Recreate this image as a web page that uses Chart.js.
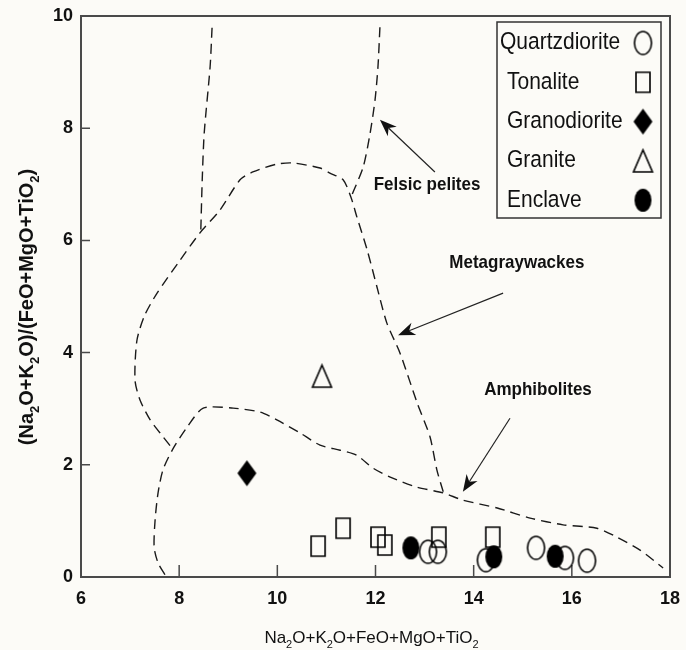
<!DOCTYPE html>
<html>
<head>
<meta charset="utf-8">
<script src="https://cdn.jsdelivr.net/npm/chart.js@4.4.1/dist/chart.umd.min.js"></script>
<style>
  body { margin: 0; background: #fcfbf7; }
  canvas { display: block; }
</style>
</head>
<body>
<canvas id="plot" width="686" height="650"></canvas>
<script>
// x = Na2O+K2O+FeO+MgO+TiO2, y = (Na2O+K2O)/(FeO+MgO+TiO2)
var quartzX = [13.07, 13.27, 14.25, 15.27, 15.86, 16.31];
var quartzY = [0.45, 0.45, 0.30, 0.52, 0.34, 0.29];
var tonaliteX = [10.83, 11.34, 12.05, 12.19, 13.29, 14.39];
var tonaliteY = [0.55, 0.87, 0.71, 0.57, 0.71, 0.71];
var granodioriteX = [9.38];
var granodioriteY = [1.85];
var graniteX = [10.91];
var graniteY = [3.58];
var enclaveX = [12.72, 14.41, 15.66];
var enclaveY = [0.52, 0.36, 0.37];

// field boundaries (dashed)
var felsicLeftX = [8.67, 8.63, 8.51, 8.47, 8.44];
var felsicLeftY = [9.79, 9.09, 7.91, 7.08, 6.15];
var felsicRightX = [12.09, 12.05, 11.99, 11.89, 11.75, 11.52];
var felsicRightY = [9.80, 9.09, 8.50, 7.91, 7.31, 6.81];
var metaX = [13.38, 13.25, 13.11, 12.85, 12.50, 12.23, 12.03, 11.83, 11.62, 11.50, 11.34, 11.07, 10.87,
             10.32, 9.99, 9.50, 9.24, 8.83, 8.42, 8.02, 7.55, 7.30, 7.14, 7.10, 7.20, 7.41, 7.67, 7.87];
var metaY = [1.52, 1.91, 2.50, 3.10, 3.99, 4.53, 5.17, 5.83, 6.42, 6.77, 7.08, 7.20, 7.29,
             7.38, 7.36, 7.22, 7.08, 6.54, 6.13, 5.65, 5.06, 4.67, 4.22, 3.51, 3.16, 2.80, 2.50, 2.28];
var amphX = [7.71, 7.57, 7.49, 7.51, 7.57, 7.67, 7.87, 8.16, 8.49, 9.10, 9.65, 9.99, 10.46, 10.87,
             11.28, 11.62, 11.95, 12.30, 12.85, 13.38, 13.78, 14.48, 15.15, 15.82, 16.51, 16.92, 17.39, 17.86];
var amphY = [0.04, 0.25, 0.53, 1.02, 1.50, 1.91, 2.28, 2.67, 3.01, 3.01, 2.94, 2.80, 2.57, 2.35,
             2.26, 2.17, 1.94, 1.78, 1.60, 1.50, 1.37, 1.23, 1.05, 0.93, 0.87, 0.71, 0.48, 0.16];

// field names with arrows
var fieldNames = ['Felsic pelites', 'Metagraywackes', 'Amphibolites'];
var nameX = [13.05, 14.88, 15.31];
var nameY = [6.99, 5.60, 3.33];
var arrowFromX = [13.21, 14.60, 14.74];
var arrowFromY = [7.22, 5.06, 2.83];
var arrowToX = [12.09, 12.46, 13.78];
var arrowToY = [8.15, 4.31, 1.52];

var xTicks = [6, 8, 10, 12, 14, 16, 18];
var yTicks = [0, 2, 4, 6, 8, 10];
var xTitle = 'Na{2}O+K{2}O+FeO+MgO+TiO{2}';
var yTitle = '(Na{2}O+K{2}O)/(FeO+MgO+TiO{2})';

var FONT = '"Liberation Sans", Arial, sans-serif';
var INK = '#111';

function pts(xs, ys) {
    return xs.map(function (x, i) { return {x: x, y: ys[i]}; });
}

// scanned symbols are a bit taller than wide, so draw them on small canvases
function marker(kind, w, h) {
    var c = document.createElement('canvas');
    c.width = w + 4;
    c.height = h + 4;
    var g = c.getContext('2d');
    var cx = c.width / 2, cy = c.height / 2;
    g.lineWidth = 1.6;
    g.strokeStyle = '#000';
    g.fillStyle = '#000';
    g.beginPath();
    if (kind === 'circle' || kind === 'dot') {
        g.ellipse(cx, cy, w / 2, h / 2, 0, 0, Math.PI * 2);
    } else if (kind === 'square') {
        g.rect(cx - w / 2, cy - h / 2, w, h);
    } else if (kind === 'diamond') {
        g.moveTo(cx, cy - h / 2);
        g.lineTo(cx + w / 2, cy);
        g.lineTo(cx, cy + h / 2);
        g.lineTo(cx - w / 2, cy);
        g.closePath();
    } else {
        g.moveTo(cx, cy - h / 2);
        g.lineTo(cx + w / 2, cy + h / 2);
        g.lineTo(cx - w / 2, cy + h / 2);
        g.closePath();
    }
    if (kind === 'dot' || kind === 'diamond') g.fill(); else g.stroke();
    return c;
}

function boundary(xs, ys) {
    return {
        data: pts(xs, ys),
        showLine: true,
        boundary: true,
        borderColor: '#1a1a1a',
        borderWidth: 1.4,
        borderDash: [10, 6],
        tension: 0.25,
        pointRadius: 0,
        order: 5
    };
}

// text with {2} style subscripts
function richText(ctx, text, x, y, size, bold) {
    var parts = text.split(/\{(\d)\}/);
    var w = bold ? 'bold ' : '';
    var base = w + size + 'px ' + FONT;
    var sub = w + Math.round(size * 0.65) + 'px ' + FONT;
    var total = 0;
    parts.forEach(function (p, i) {
        ctx.font = i % 2 ? sub : base;
        total += ctx.measureText(p).width;
    });
    var cx = x - total / 2;
    ctx.textAlign = 'left';
    ctx.textBaseline = 'alphabetic';
    parts.forEach(function (p, i) {
        ctx.font = i % 2 ? sub : base;
        ctx.fillText(p, cx, i % 2 ? y + size * 0.3 : y);
        cx += ctx.measureText(p).width;
    });
}

function arrow(ctx, x1, y1, x2, y2) {
    var a = Math.atan2(y2 - y1, x2 - x1), L = 17, W = 6.5;
    var c = Math.cos(a), s = Math.sin(a);
    ctx.beginPath();
    ctx.moveTo(x1, y1);
    ctx.lineTo(x2 - c * L * 0.7, y2 - s * L * 0.7);
    ctx.stroke();
    ctx.beginPath();
    ctx.moveTo(x2, y2);
    ctx.lineTo(x2 - L * c + W * s, y2 - L * s - W * c);
    ctx.lineTo(x2 - L * 0.7 * c, y2 - L * 0.7 * s);
    ctx.lineTo(x2 - L * c - W * s, y2 - L * s + W * c);
    ctx.closePath();
    ctx.fill();
}

// box around the plot + inward tick marks
var framePlugin = {
    id: 'frame',
    beforeDatasetsDraw: function (chart) {
        var ctx = chart.ctx, ca = chart.chartArea;
        var sx = chart.scales.x, sy = chart.scales.y;
        ctx.save();
        ctx.strokeStyle = '#4a4a4a';
        ctx.lineWidth = 2;
        ctx.strokeRect(ca.left, ca.top, ca.right - ca.left, ca.bottom - ca.top);
        ctx.lineWidth = 1.5;
        ctx.beginPath();
        xTicks.slice(1, -1).forEach(function (v) {
            var px = sx.getPixelForValue(v);
            ctx.moveTo(px, ca.bottom);
            ctx.lineTo(px, ca.bottom - 12);
        });
        yTicks.slice(1, -1).forEach(function (v) {
            var py = sy.getPixelForValue(v);
            ctx.moveTo(ca.left, py);
            ctx.lineTo(ca.left + 9, py);
        });
        ctx.stroke();
        ctx.restore();
    }
};

// field names, arrows, legend box, axis titles
var notesPlugin = {
    id: 'notes',
    afterDatasetsDraw: function (chart) {
        var ctx = chart.ctx, ca = chart.chartArea;
        var sx = chart.scales.x, sy = chart.scales.y;
        ctx.save();
        ctx.fillStyle = INK;
        ctx.strokeStyle = '#222';
        ctx.lineWidth = 1.2;
        fieldNames.forEach(function (name, i) {
            ctx.save();
            ctx.translate(sx.getPixelForValue(nameX[i]), sy.getPixelForValue(nameY[i]));
            ctx.scale(1, 1.08);
            ctx.font = 'bold 17px ' + FONT;
            ctx.textAlign = 'center';
            ctx.textBaseline = 'middle';
            ctx.fillText(name, 0, 0);
            ctx.restore();
            arrow(ctx, sx.getPixelForValue(arrowFromX[i]), sy.getPixelForValue(arrowFromY[i]),
                  sx.getPixelForValue(arrowToX[i]), sy.getPixelForValue(arrowToY[i]));
        });

        // legend
        var left = ca.right - 173, top = ca.top + 6;
        ctx.fillStyle = '#fcfbf7';
        ctx.fillRect(left, top, 164, 196);
        ctx.strokeStyle = '#333';
        ctx.lineWidth = 1.5;
        ctx.strokeRect(left, top, 164, 196);
        ctx.fillStyle = INK;
        var items = chart.data.datasets.filter(function (d) { return !d.boundary; });
        items.sort(function (a, b) { return a.legendRank - b.legendRank; });
        items.forEach(function (d, i) {
            var cy = top + 21 + i * 39.3;
            ctx.save();
            ctx.translate(i === 0 ? left + 3 : left + 10, cy);
            ctx.scale(1, 1.12);
            ctx.font = '21px ' + FONT;
            ctx.textAlign = 'left';
            ctx.textBaseline = 'middle';
            ctx.fillText(d.label, 0, 0);
            ctx.restore();
            var img = d.pointStyle;
            ctx.drawImage(img, left + 146 - img.width / 2, cy - img.height / 2);
        });

        // axis titles
        ctx.fillStyle = INK;
        richText(ctx, xTitle, (ca.left + ca.right) / 2 - 4, 643, 17, false);
        ctx.translate(33, 307);
        ctx.rotate(-Math.PI / 2);
        richText(ctx, yTitle, 0, 0, 20, true);
        ctx.restore();
    }
};

var tickFont = {family: FONT, size: 18, weight: 'bold'};

new Chart(document.getElementById('plot'), {
    type: 'scatter',
    data: {
        datasets: [
            {label: 'Quartzdiorite', legendRank: 0, data: pts(quartzX, quartzY), pointStyle: marker('circle', 17, 23), pointRadius: 10, order: 2},
            {label: 'Tonalite', legendRank: 1, data: pts(tonaliteX, tonaliteY), pointStyle: marker('square', 14, 20), pointRadius: 10, order: 3},
            {label: 'Granodiorite', legendRank: 2, data: pts(granodioriteX, granodioriteY), pointStyle: marker('diamond', 19, 26), pointRadius: 10, order: 1},
            {label: 'Granite', legendRank: 3, data: pts(graniteX, graniteY), pointStyle: marker('triangle', 19, 22), pointRadius: 10, order: 1},
            {label: 'Enclave', legendRank: 4, data: pts(enclaveX, enclaveY), pointStyle: marker('dot', 17, 23), pointRadius: 10, order: 0},
            boundary(felsicLeftX, felsicLeftY),
            boundary(felsicRightX, felsicRightY),
            boundary(metaX, metaY),
            boundary(amphX, amphY)
        ]
    },
    options: {
        responsive: false,
        animation: false,
        events: [],
        layout: {padding: {top: 16, right: 16, left: 0, bottom: 0}},
        plugins: {legend: {display: false}, tooltip: {enabled: false}},
        scales: {
            x: {
                type: 'linear',
                min: xTicks[0],
                max: xTicks[xTicks.length - 1],
                ticks: {stepSize: 2, font: tickFont, color: INK, padding: 11, maxRotation: 0},
                grid: {display: false, drawTicks: false},
                border: {display: false},
                afterFit: function (s) { s.height = 73; s.paddingLeft = 0; s.paddingRight = 0; }
            },
            y: {
                type: 'linear',
                min: yTicks[0],
                max: yTicks[yTicks.length - 1],
                ticks: {stepSize: 2, font: tickFont, color: INK, padding: 8},
                grid: {display: false, drawTicks: false},
                border: {display: false},
                afterFit: function (s) { s.width = 81; s.paddingTop = 0; s.paddingBottom = 0; }
            }
        }
    },
    plugins: [framePlugin, notesPlugin]
});
</script>
</body>
</html>
